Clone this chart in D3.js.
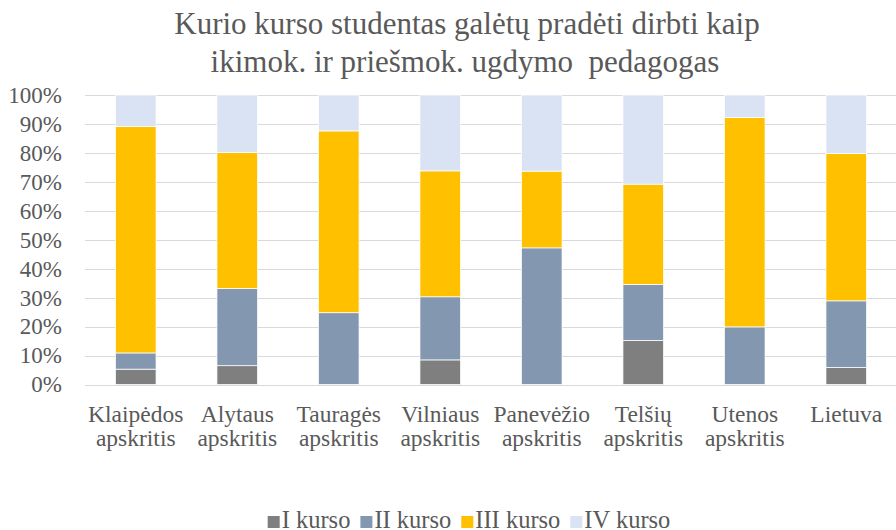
<!DOCTYPE html>
<html>
<head>
<meta charset="utf-8">
<script src="https://cdn.jsdelivr.net/npm/d3@7"></script>
</head>
<body style="margin:0; background:#fff">
<svg id="vis" width="896" height="530"></svg>
<script>
// data (shares, %)
var regions = [
    ["Klaipėdos", "apskritis"], ["Alytaus", "apskritis"], ["Tauragės", "apskritis"],
    ["Vilniaus", "apskritis"], ["Panevėžio", "apskritis"], ["Telšių", "apskritis"],
    ["Utenos", "apskritis"], ["Lietuva"]
];
var seriesNames = ["I kurso", "II kurso", "III kurso", "IV kurso"];
var kursoI   = [5.3, 6.5, 0,    8.5,  0,    15.2, 0,    5.9];
var kursoII  = [5.6, 26.7, 24.8, 21.8, 47.2, 19.4, 19.9, 23.0];
var kursoIII = [78.2, 46.9, 62.8, 43.5, 26.5, 34.6, 72.3, 50.9];
var kursoIV  = [10.9, 19.9, 12.4, 26.2, 26.3, 30.8, 7.8, 20.2];
var yTicks = [0, 10, 20, 30, 40, 50, 60, 70, 80, 90, 100];

var colors = ["#7f7f7f", "#8497b0", "#ffc000", "#dae3f3"];
const MARGINS = { top: 95, right: 0, bottom: 146, left: 85 };
const FONT = "'Liberation Serif', 'Times New Roman', serif";
const TEXT_COLOR = "#595959";

var svg = d3.select("#vis");
var width = 896, height = 530;

// build rows for d3.stack
var rows = regions.map(function(r, i){
    return { key: r.join(" "), label: r,
        "I kurso": kursoI[i], "II kurso": kursoII[i], "III kurso": kursoIII[i], "IV kurso": kursoIV[i] };
});
var stacked = d3.stack().keys(seriesNames)(rows);

var x = d3.scaleBand()
    .domain(rows.map(function(d){ return d.key; }))
    .range([MARGINS.left, 897])
    .paddingInner(0.6)
    .paddingOuter(0.3);
var y = d3.scaleLinear().domain([0, 100]).range([height - MARGINS.bottom + 0.5, MARGINS.top]);

// gridlines
svg.append("g")
    .selectAll("line")
    .data(yTicks)
    .enter()
    .append("line")
    .attr("x1", MARGINS.left)
    .attr("x2", width)
    .attr("y1", function(d){ return Math.round(y(d)) + 0.5; })
    .attr("y2", function(d){ return Math.round(y(d)) + 0.5; })
    .style("stroke", "#d9d9d9")
    .style("stroke-width", 1);

// y axis labels
var yAxis = d3.axisLeft(y).tickValues(yTicks).tickSize(0).tickPadding(0)
    .tickFormat(function(d){ return d + "%"; });
var gy = svg.append("g").attr("transform", "translate(62,0)").call(yAxis);
gy.select(".domain").remove();
gy.selectAll("text")
    .style("font-size", "23px")
    .style("fill", TEXT_COLOR)
    .style("font-family", FONT);

// bars
svg.append("g")
    .selectAll("g")
    .data(stacked)
    .enter()
    .append("g")
    .style("fill", function(d, i){ return colors[i]; })
    .selectAll("rect")
    .data(function(d){ return d; })
    .enter()
    .append("rect")
    .attr("x", function(d){ return x(d.data.key); })
    .attr("width", x.bandwidth())
    .attr("y", function(d){ return y(d[1]); })
    .attr("height", function(d){ return y(d[0]) - y(d[1]); })
    .style("stroke", "#ffffff")
    .style("stroke-width", 0.75);

// x labels
var xl = svg.append("g")
    .selectAll("text")
    .data(rows)
    .enter()
    .append("text")
    .attr("x", function(d){ return x(d.key) + x.bandwidth()/2; })
    .attr("y", 422)
    .style("text-anchor", "middle")
    .style("font-size", "23.5px")
    .style("font-family", FONT)
    .style("fill", TEXT_COLOR);
xl.selectAll("tspan")
    .data(function(d){ return d.label; })
    .enter()
    .append("tspan")
    .attr("x", function(){ return this.parentNode.getAttribute("x"); })
    .attr("dy", function(d, i){ return i === 0 ? 0 : 24; })
    .text(function(d){ return d; });

// title
var title = svg.append("text")
    .attr("x", 466)
    .attr("y", 34)
    .style("text-anchor", "middle")
    .style("font-size", "31px")
    .style("font-family", FONT)
    .style("fill", TEXT_COLOR)
    .style("white-space", "pre");
title.append("tspan").attr("x", 467).attr("dy", 0).text("Kurio kurso studentas galėtų pradėti dirbti kaip");
title.append("tspan").attr("x", 465).attr("dy", 38).text("ikimok. ir priešmok. ugdymo  pedagogas");

// legend: lay out items from the measured text widths, centred on the plot
var legend = svg.append("g");
var items = legend.selectAll("g")
    .data(seriesNames)
    .enter()
    .append("g");
items.append("rect")
    .attr("y", 516)
    .attr("width", 12)
    .attr("height", 12)
    .style("fill", function(d, i){ return colors[i]; });
items.append("text")
    .attr("x", 14)
    .attr("y", 528)
    .style("font-size", "24.5px")
    .style("font-family", FONT)
    .style("fill", TEXT_COLOR)
    .text(function(d){ return d; });
var offset = 0;
items.each(function(){
    var w = d3.select(this).select("text").node().getComputedTextLength();
    d3.select(this).attr("transform", "translate(" + offset + ",0)");
    offset += 14 + w + 10;
});
legend.attr("transform", "translate(" + (469 - (offset - 10)/2) + ",0)");
</script>
</body>
</html>
